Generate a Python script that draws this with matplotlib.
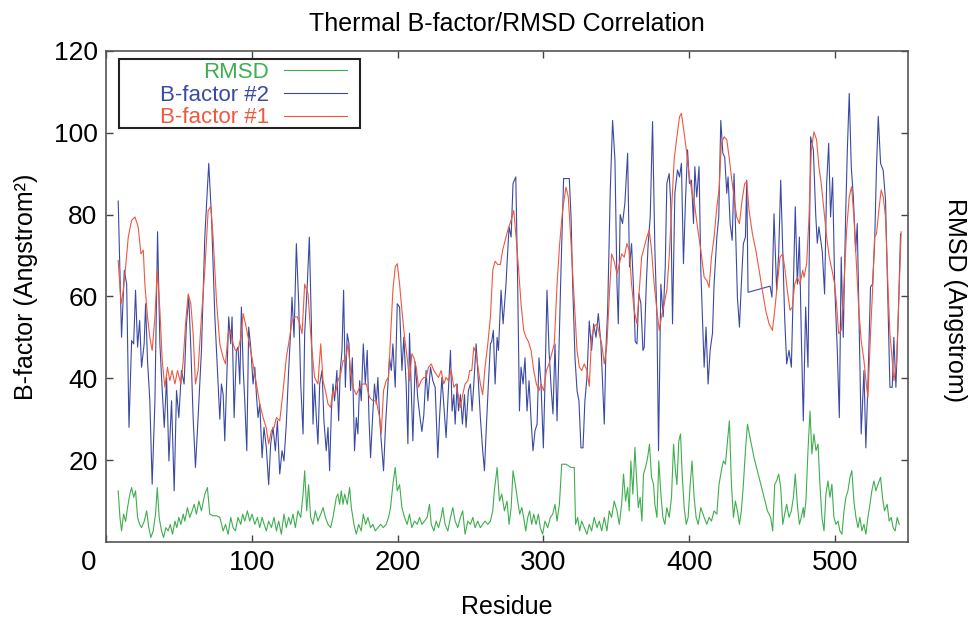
import matplotlib
matplotlib.use("Agg")
import matplotlib.pyplot as plt
from matplotlib.patches import Rectangle
from matplotlib.transforms import ScaledTranslation

plt.rcParams['font.family'] = ['Liberation Sans', 'DejaVu Sans']

# (residue, value) points
rmsd = [(8.4,12.5),(9.6,6),(10.7,2.7),(12.1,6.8),(13.5,5),(14.8,8.4),(16.4,11.7),(17.6,13.3),(19.0,10.9),(20.3,12.5),
        (21.7,6),(23.1,4.3),(24.4,3.5),(26.3,5.1),(27.9,7.6),(29.4,3.5),(30.8,1.1),(32.4,2.7),(34.0,6.8),(35.2,13.3),
        (36.5,6),(38.1,2.7),(39.5,1.1),(41.1,3.5),(42.7,2.7),(44.1,4.3),(45.7,1.9),(47.3,5.1),(48.6,3.5),(50.0,6),
        (51.4,4.3),(53.0,6.8),(54.1,5.1),(55.9,8.4),(57.5,6),(59.1,7.6),(60.5,9.2),(62.1,6.8),(63.7,10),(65.5,7.6),
        (67.8,11.7),(69.6,13.3),(71.2,6.8),(73.5,6.4),(75.8,6.4),(78.1,6),(80.4,2.7),(82.0,4.3),(83.8,1.9),(85.6,6),
        (87.2,3.5),(88.8,2.7),(90.6,6),(92.5,4.3),(93.8,6.8),(95.2,5.1),(97.0,7.6),(98.6,5.1),(100.2,6.8),(102.1,4.3),
        (103.9,6),(105.5,3.5),(107.1,6),(108.5,4.3),(110.0,2.7),(111.6,5.1),(113.5,3.5),(115.3,6),(116.9,2.7),(118.5,5.1),
        (120.3,1.9),(122.1,6.8),(123.7,3.5),(125.3,6),(126.7,4.3),(128.3,6.8),(129.9,3.5),(131.7,7.6),(133.6,6),(135.2,11.7),
        (136.3,17.4),(137.7,7.6),(139.0,14),(140.4,6),(142.0,4.3),(143.6,7.6),(145.4,5.1),(147.3,6.8),(148.9,8.4),(150.5,6),
        (152.3,4.3),(154.1,3.5),(155.7,6),(158.0,10.9),(159.1,11.7),(160.3,9.2),(161.4,12.5),(162.6,9.2),(163.7,11.7),(165.5,9.2),
        (167.1,13.3),(168.3,8.4),(170.1,4.3),(171.7,1.9),(173.3,4.3),(175.1,2.7),(176.5,6.8),(178.1,4.3),(179.7,6),(181.5,3.5),
        (183.1,4.3),(184.7,2.7),(186.5,3.5),(188.4,4.3),(190.2,3.5),(192.2,4.3),(193.8,6),(195.2,8.4),(196.8,14),(198.4,18.2),
        (199.8,12.5),(201.4,14),(203.0,8.4),(204.8,6),(206.6,4.3),(208.2,6.8),(209.8,3.5),(211.6,5.1),(213.5,4.3),(215.1,6),
        (216.7,4.3),(218.5,5.1),(220.3,6),(221.9,9.2),(223.1,4.3),(224.9,2.7),(226.5,5.1),(228.1,3.5),(229.9,6),(231.0,8.4),
        (232.6,4.3),(234.5,2.7),(236.3,6),(237.9,8.4),(239.5,5.1),(241.3,3.5),(243.1,6),(244.7,7.6),(246.3,1.9),(248.2,5.1),
        (250.0,4.3),(251.6,6),(253.2,3.5),(255.0,5.1),(256.8,3.5),(258.4,4.3),(260.0,5.1),(261.9,4.3),(263.7,5.1),(265.3,7.6),
        (266.4,12.5),(268.3,18.2),(269.9,10),(271.5,11.7),(273.3,7.6),(275.1,10),(276.5,4.3),(277.9,8.4),(279.2,17.4),(281.1,13.3),
        (282.4,10),(283.8,6.8),(285.2,8.4),(286.5,6),(287.9,2.7),(289.3,6),(290.6,7.6),(292.0,4.3),(293.4,6.8),(295.0,4.3),
        (296.6,6.8),(297.9,3.5),(299.5,1.9),(301.1,5.1),(303.0,3.5),(304.8,6),(306.4,6.8),(308.0,9.2),(309.4,5.1),(311.0,9.2),
        (312.6,19),(315.5,19),(319.0,18.2),(321.2,18.2),(322.1,4.3),(323.5,6),(324.9,2.7),(326.3,5.1),(328.1,3.5),(329.9,1.9),
        (331.5,4.3),(333.1,2.7),(334.9,6),(336.8,3.5),(338.4,5.1),(340.0,2.7),(341.8,6),(343.6,2.7),(345.2,7.6),(346.8,6),
        (348.6,10),(350.5,7.6),(352.1,4.3),(353.7,9.2),(355.0,16.6),(356.4,10),(357.8,13.3),(358.9,7.6),(360.0,19.8),(361.4,11.7),
        (362.8,23.1),(363.9,15.8),(365.1,8.4),(366.4,10.9),(367.6,5.1),(368.7,16.6),(370.1,18.2),(371.5,20.6),(372.8,23.9),(374.2,15.8),
        (375.6,14),(376.5,9.2),(377.9,6),(379.2,19.8),(380.6,11.7),(382.0,6),(383.3,4.3),(384.7,8.4),(386.3,6),(387.9,10.9),
        (389.3,23.9),(390.4,18.2),(391.6,14),(392.9,24.7),(394.1,26.4),(395.2,16.6),(396.6,8.4),(398.0,4.3),(399.3,6),(400.7,14),
        (402.0,19.8),(403.4,10.9),(404.8,6),(406.2,4.3),(408.0,8.4),(410.3,6),(412.1,4.3),(413.7,6),(415.3,5.1),(417.1,7.6),
        (419.0,6.8),(420.5,14.1),(422.1,17.4),(423.5,19.8),(424.9,19),(426.3,24.7),(427.6,29.6),(429.0,14.1),(430.4,6),(431.7,10),
        (433.1,7.6),(434.5,4.3),(435.8,7.6),(437.2,14.1),(438.6,22.3),(440.0,28.8),(442.2,24.7),(444.5,20.6),(446.8,17.4),(449.1,14.1),
        (451.4,10.9),(453.7,7.6),(455.9,6),(457.3,2.7),(458.7,14.1),(460.0,14.9),(461.4,16.6),(462.8,13.3),(464.2,4.3),(465.5,6.8),
        (466.9,9.2),(468.5,6),(470.1,7.6),(471.5,10.9),(472.8,16.6),(474.2,9.2),(475.6,4.3),(476.9,6),(478.3,8.4),(478.8,6),
        (480.1,10),(481.5,22.3),(482.9,32),(484.2,21.5),(485.6,26.4),(487.0,22.3),(488.4,23.9),(489.7,14.1),(491.1,6),(492.5,2.7),
        (493.8,11.7),(495.2,14.9),(496.6,10.9),(497.9,14.1),(499.3,6),(500.7,4.3),(502.1,5.1),(503.4,2.7),(504.8,1.9),(506.2,7.6),
        (507.5,10.9),(508.9,12.5),(510.3,15.8),(511.6,17.4),(513.0,10),(514.4,6),(515.8,3.5),(517.1,6),(518.5,2.7),(519.9,4.3),
        (521.2,1.9),(522.6,6),(524.0,9.2),(525.3,12.5),(526.7,14.9),(528.1,12.5),(529.5,14.1),(531.3,15.8),(532.6,10.9),(534.0,7.6),
        (535.8,9.2),(537.2,5.1),(538.6,6),(539.9,3.5),(541.3,2.7),(542.7,6),(544.1,4.3)]

bfactor2 = [(8.4,83.3),(10.7,50),(12.6,66.4),(14.2,63),(15.8,28),(17.6,49.2),(19.0,48.4),(20.3,61.5),(21.7,47.6),(23.1,54.1),
            (24.4,42.7),(26.2,48.4),(27.2,58.2),(28.5,44.3),(30.1,34.5),(31.7,14.1),(33.6,34.5),(35.4,75.8),(37.0,48.4),(38.6,37),
            (40.0,28),(41.6,40.2),(43.2,19.8),(45.0,34.5),(46.8,12.5),(48.4,37),(50.0,30.4),(51.8,41.9),(53.6,38.6),(55.2,53.3),
            (56.8,59.8),(58.2,47.6),(59.8,30.4),(61.4,18.2),(63.2,30.4),(65.5,46.8),(67.8,74.5),(70.5,92.5),(72.4,79.4),(74.7,55),
            (76.9,38.6),(78.1,30),(79.2,38.6),(80.4,36),(81.5,24.7),(82.9,40),(84.2,55),(85.6,48.4),(86.5,55),(87.9,30.4),
            (89.5,46.8),(90.6,47.6),(91.8,38.6),(92.9,57.4),(94.1,42.7),(95.2,34.5),(96.6,22.3),(97.9,52.5),(99.3,47.6),(100.9,38.6),
            (102.1,42.7),(103.2,36),(104.3,30.4),(105.5,33.7),(107.1,20.6),(108.4,28),(110.0,23),(111.6,14),(113.0,24),(114.6,28),
            (116.2,22.3),(117.6,29.6),(119.2,16.6),(120.8,22.3),(122.1,19.8),(123.7,28.8),(125.3,41.9),(126.7,51.7),(127.6,59.8),(129.0,50),
            (130.6,72.9),(132.2,58.2),(133.6,38.6),(135.2,26.4),(136.3,50.9),(138.1,63),(139.5,74.5),(140.9,53.3),(142.0,28.8),(143.1,38.6),
            (144.3,30.4),(145.4,23.9),(146.6,38.6),(148.2,41.9),(149.5,29.6),(151.1,22.3),(152.3,28),(153.4,17.4),(154.6,32),(155.7,38.6),
            (156.8,34.5),(158.4,41.9),(159.6,29.6),(160.7,41.9),(161.9,46.8),(163.0,61.5),(164.2,37.8),(165.5,50.9),(166.7,48.4),(167.8,37),
            (169.0,45),(170.5,22.3),(171.7,30.4),(172.8,26.4),(174.0,39.4),(175.1,34.5),(176.5,48.4),(177.9,38.6),(179.2,46.8),(180.4,30.4),
            (181.5,20.6),(183.1,32),(184.2,38.6),(185.4,33.7),(186.5,40.2),(187.7,30.4),(188.8,24.7),(190.4,17.4),(191.8,28.8),(193.4,38.6),
            (194.5,45),(195.7,41.9),(196.8,48.4),(198.4,37.8),(199.8,58.2),(201.4,57.4),(203.0,41.9),(204.3,50),(205.9,38.6),(207.1,24),
            (208.2,51),(210.5,24.7),(212.1,44),(213.9,35),(215.7,29.6),(216.7,27),(218.0,31),(219.6,41.9),(220.8,34.5),(222.6,42.7),
            (224.2,39.4),(225.8,37.8),(227.6,20.6),(228.8,30.4),(230.4,40.2),(231.7,33.7),(233.3,25.5),(234.5,34.5),(236.3,46.8),(237.4,32),
            (238.6,36),(239.5,28.8),(240.9,38.6),(241.8,32),(243.1,36),(244.5,28.8),(245.9,36),(247.0,28),(248.6,37),(250.0,38.6),
            (251.1,32),(252.3,38.6),(253.9,48.4),(255.0,41.9),(256.8,30.4),(258.4,22.3),(259.6,17.4),(260.7,26.4),(262.3,38.6),(263.7,48.4),
            (264.6,49),(265.7,51.7),(266.9,38.6),(268.3,50),(269.2,46.8),(271.0,61.5),(272.4,53.3),(274.4,63),(275.1,68),(276.5,77),
            (277.9,74.5),(279.2,87.6),(281.1,89.2),(282.4,63),(283.6,32),(284.7,42.7),(286.1,38.6),(287.4,45),(288.8,32),(290.2,39.4),
            (291.6,29.6),(292.9,22.3),(294.3,27.2),(295.7,28.8),(297.0,45),(298.4,38.6),(300.0,23),(301.1,38.6),(302.5,61.5),(303.9,46.8),
            (305.3,37.8),(306.6,31.3),(308.0,48.4),(309.4,29.6),(310.7,46.8),(312.1,66.4),(313.9,88.8),(317.8,88.8),(319.0,79.4),(320.1,63),
            (321.7,45),(323.1,37),(324.4,34.5),(325.8,23),(327.2,23),(328.5,34.5),(329.9,40.2),(331.5,54),(333.1,46.8),(334.5,53.3),
            (336.1,50),(337.7,55.8),(339.5,48.4),(341.8,28.8),(342.9,46.8),(344.1,56.6),(345.9,86),(347.5,103),(349.1,93.4),(350.5,63),
            (351.4,53.3),(352.7,80),(354.3,77.8),(355.9,82.7),(357.8,95),(359.1,67.2),(360.5,72.9),(361.9,61.5),(363.0,49),(364.2,48.4),
            (365.5,60.7),(366.9,58.2),(368.3,46.8),(369.2,47.6),(370.6,63),(371.9,72.9),(373.3,79.4),(374.9,102.7),(376.5,71.3),(377.9,55),
            (379.0,22.3),(380.6,63),(382.2,55),(383.6,67.2),(384.7,87.6),(386.3,90),(387.4,82.7),(388.6,53.3),(390.2,85.2),(392.0,90.9),
            (393.4,89.2),(394.7,92.5),(396.1,68),(397.5,83.5),(398.9,95.8),(400.2,87.6),(401.6,88.4),(403.0,77.8),(403.9,91.7),(405.2,84.3),
            (406.8,91.7),(408.0,66.4),(409.4,51.7),(410.3,42.7),(411.6,52.5),(413.0,38.6),(414.4,46.8),(416.0,51),(417.1,63),(419.0,74.5),
            (420.3,79.4),(421.7,103),(423.1,95),(424.4,94),(425.8,85.2),(426.7,89.2),(428.1,77.8),(429.5,73.7),(430.8,90),(432.2,71.3),
            (433.1,59.8),(434.5,52.5),(435.8,63),(437.2,72.9),(438.6,74.5),(439.5,88.4),(440.4,61),(455.5,62.5),(456.8,59.8),(458.2,80.2),
            (460.0,61.5),(461.4,70.4),(462.8,88.4),(464.2,71.3),(465.5,55),(466.9,43.5),(468.5,46.8),(470.1,42.7),(471.5,63),(472.8,81.9),
            (474.2,63),(475.6,74.5),(476.9,50.9),(478.3,29.6),(479.9,57.4),(481.5,42.7),(483.3,99),(485.2,95.8),(486.8,80),(487.9,73),
            (489.0,77),(491.3,71),(492.9,60.6),(494.3,87.6),(495.7,97.4),(497.0,79.4),(498.4,89),(499.8,63),(501.6,46.8),(503.0,30.4),
            (504.3,69.6),(505.7,50),(507.3,79.4),(508.5,95.8),(509.8,109.6),(511.2,91.7),(512.6,84.3),(514.2,71),(515.3,77.8),(516.7,50.9),
            (518.0,26.4),(519.9,41.9),(521.2,23),(522.6,38.6),(524.4,62.3),(525.8,63),(527.2,72.9),(528.5,91.7),(529.7,104),(531.3,92.5),
            (533.1,90.8),(534.7,83.5),(536.3,59),(537.7,37.8),(539.3,37.8),(540.4,50),(541.8,37.8),(543.2,52.5),(545.0,75.3)]

bfactor1 = [(8.4,68.8),(10.3,58.2),(11.9,61.5),(13.5,67.2),(15.3,74.5),(17.6,78.6),(19.9,79.4),(22.1,77),(24.0,70.4),(25.6,71.3),
            (26.7,63),(28.5,55),(30.1,50),(31.7,46.8),(33.6,55),(35.2,66.4),(37.0,56.6),(38.6,44.3),(40.4,37.8),(42.2,42.7),
            (43.8,39.4),(45.4,41.9),(47.3,38.6),(49.1,41.9),(51.4,38.6),(53.0,44.3),(54.6,53.3),(56.4,60.6),(58.2,58.2),(59.8,50.9),
            (61.4,38.6),(63.2,41.9),(65.5,55),(67.8,66.4),(70.1,81),(71.9,82),(73.5,74.5),(75.8,59),(78.1,48.4),(80.4,45),
            (82.0,43.5),(83.8,50.9),(85.4,51.7),(87.2,48.4),(88.8,46.8),(90.6,46.8),(92.5,50),(94.1,55.8),(95.7,53.3),(97.5,50),
            (99.3,46.8),(100.9,43.5),(103.2,38.6),(105.5,33.7),(107.8,30.4),(110.0,27.8),(111.6,24),(113.5,27.2),(115.3,28),(116.9,30.4),
            (119.2,29.6),(121.5,37),(123.7,45),(126.0,50),(127.6,54),(129.5,55),(131.3,55),(132.9,53.3),(134.5,50.9),(136.3,63),
            (138.6,60.6),(140.9,48.4),(143.1,40.2),(145.4,38.6),(147.3,48.4),(148.9,39.4),(150.5,37),(152.3,33.7),(154.1,32.9),(155.7,37),
            (157.3,36),(159.1,39.4),(161.0,41),(162.6,44.3),(164.2,44.3),(166.0,48.4),(167.6,42.7),(169.4,37.8),(171.7,36),(174.0,37.8),
            (176.3,38.6),(178.5,38.6),(180.8,35.3),(183.1,34.5),(185.4,34.5),(187.7,30.4),(188.8,26.4),(190.4,37),(192.2,39.4),(193.8,40.2),
            (195.2,50),(196.8,61.5),(198.4,67.2),(199.8,68),(201.4,63),(203.0,56.6),(204.8,50),(206.6,45),(208.2,39.4),(209.8,46),
            (211.2,45),(212.8,42.7),(214.4,37.8),(216.2,39.4),(218.0,40.2),(219.6,40.2),(221.2,42.7),(223.1,43.5),(224.9,41.9),(226.5,41),
            (228.1,40.2),(229.9,41.9),(231.7,38.6),(233.3,40.2),(234.9,39.4),(236.8,41.9),(238.6,37.8),(240.2,38.6),(241.8,35.3),(243.1,32.9),
            (244.7,36),(246.3,38.6),(248.2,39.4),(249.5,41.9),(250.9,41.9),(252.3,47.6),(253.9,46),(255.5,41.9),(256.8,38.6),(258.4,36),
            (260.0,42.7),(261.9,48.4),(263.7,55),(265.3,66.4),(266.9,68.6),(268.7,67.8),(270.5,67.8),(272.1,71.3),(274.4,74.5),(275.6,76.2),
            (277.9,78.6),(279.7,81),(281.3,74.5),(282.9,67.2),(284.7,58.2),(286.5,51.7),(288.1,50),(289.7,49),(291.6,46.8),(293.4,41.9),
            (295.2,38.6),(297.0,37),(298.4,38.6),(300.2,37),(302.1,41.9),(303.9,43.5),(305.7,46),(307.5,48.4),(309.4,63),(311.2,72.9),
            (313.2,81),(315.5,86.7),(317.1,84.3),(319.0,72.9),(321.2,59),(323.1,46.8),(324.7,42.7),(326.3,41.9),(328.1,43.5),(329.9,41.9),
            (331.5,38),(333.1,50),(334.9,52.6),(336.8,53.3),(338.4,50.9),(340.0,48.4),(341.8,43.5),(343.6,48.4),(345.2,59.8),(346.8,70.4),
            (348.6,68.6),(350.5,65.5),(352.1,67.8),(353.7,70.4),(355.5,69.6),(357.3,72.9),(358.9,71.3),(360.5,63),(362.3,56.6),(364.2,53.3),
            (365.8,61.5),(367.4,69.6),(369.2,72.1),(371.0,74.5),(372.6,76.2),(374.2,71.3),(376.0,63),(377.9,56.6),(379.5,51.7),(381.0,55),
            (382.9,58.2),(384.7,61.5),(386.3,69.6),(387.9,81),(389.7,93.4),(391.6,99),(393.4,103.9),(394.7,104.7),(396.6,99.8),(398.4,94.9),
            (400.2,89.2),(402.1,85.2),(403.9,82),(405.7,77),(408.0,71.3),(410.3,64.7),(412.1,63.9),(413.7,62.2),(415.3,69.6),(417.1,74.5),
            (419.0,81.9),(420.5,86),(422.1,97.4),(424.0,99),(425.8,98.3),(427.4,94.1),(429.0,89.2),(430.8,84.3),(432.6,79.4),(434.5,77.8),
            (436.3,83.5),(438.1,87.6),(439.5,88),(441.1,81),(443.4,75.3),(445.7,71.3),(448.0,66.4),(450.2,61.5),(452.5,56.6),(454.8,53.3),
            (457.1,51.7),(458.7,56.6),(460.5,63),(462.3,69.6),(464.2,70.4),(465.8,66.4),(467.3,61.5),(469.2,56.6),(470.8,57.4),(472.4,63),
            (474.2,64.7),(476.0,63),(477.9,66.4),(478.8,64.7),(480.6,68),(482.2,79.4),(483.8,95.8),(485.6,100.2),(487.4,98.3),(489.0,91.7),
            (490.6,87.6),(492.5,81),(494.3,74.5),(496.1,69.6),(498.0,66.4),(499.8,63),(501.1,58.2),(502.5,50.9),(504.3,51.7),(506.2,63),
            (508.0,76.2),(509.8,84.3),(511.4,86.8),(513.0,79.4),(514.8,67.2),(516.4,56.6),(518.0,49.2),(519.9,44.3),(521.5,38.6),(522.6,35.3),
            (524.4,50.9),(525.8,61.5),(527.2,74.5),(528.5,75.3),(530.1,81),(531.7,86),(533.1,84.3),(534.7,79.4),(536.3,63),(537.7,50.9),
            (539.3,44.3),(540.4,39.4),(542.2,43.5),(543.8,59),(545.4,75.8)]

x_ticks = [0, 100, 200, 300, 400, 500]
y_ticks = [20, 40, 60, 80, 100, 120]

fig = plt.figure(figsize=(9.72, 6.17), dpi=100)
ax = fig.add_axes([0.109, 0.1216, 0.825, 0.796])

x, y = zip(*rmsd)
ax.plot(x, y, color='#3fae4f', lw=0.8, label='RMSD')
x, y = zip(*bfactor2)
ax.plot(x, y, color='#3a4aa2', lw=0.8, label='B-factor #2')
x, y = zip(*bfactor1)
ax.plot(x, y, color='#f0583e', lw=0.8, label='B-factor #1')

ax.set_xlim(0, 550)
ax.set_ylim(0, 120)
ax.set_xticks(x_ticks)
ax.set_yticks(y_ticks)
ax.tick_params(direction='in', length=5, width=1, top=True, right=True, color='#444444')
ax.tick_params(axis='x', labelsize=20, pad=6)
ax.tick_params(axis='y', labelsize=19, pad=6)
for s in ax.spines.values():
    s.set_color('#555555')
    s.set_linewidth(1.2)

# the "0" label sits left of its tick in the original
lab0 = ax.get_xticklabels()[0]
lab0.set_transform(lab0.get_transform() + ScaledTranslation(-0.17, 0, fig.dpi_scale_trans))

ax.set_title('Thermal B-factor/RMSD Correlation', fontsize=18, pad=14)
ax.set_xlabel('Residue', fontsize=18)
ax.xaxis.set_label_coords(0.5, -0.107)
ax.set_ylabel('B-factor (Angstrom²)', fontsize=18)
ax.yaxis.set_label_coords(-0.085, 0.52)
ax.text(1.059, 0.493, 'RMSD (Angstrom)', transform=ax.transAxes, rotation=270,
        fontsize=18, ha='center', va='center')

# legend box is wider on the left than matplotlib pads it, so draw the frame separately
ax.add_patch(Rectangle((0.0162, 0.8438), 0.3005, 0.1405, transform=ax.transAxes,
                       facecolor='white', edgecolor='#222222', lw=1.5, zorder=4))
leg = ax.legend(loc='upper right', bbox_to_anchor=(0.3005, 0.9776), borderaxespad=0,
                fontsize=16, markerfirst=False, handlelength=2.84, handletextpad=0.68,
                labelspacing=0.08, frameon=False, borderpad=0)
leg.set_zorder(5)
for t, l in zip(leg.get_texts(), leg.get_lines()):
    t.set_color(l.get_color())

fig.savefig('out.png', dpi=100)
